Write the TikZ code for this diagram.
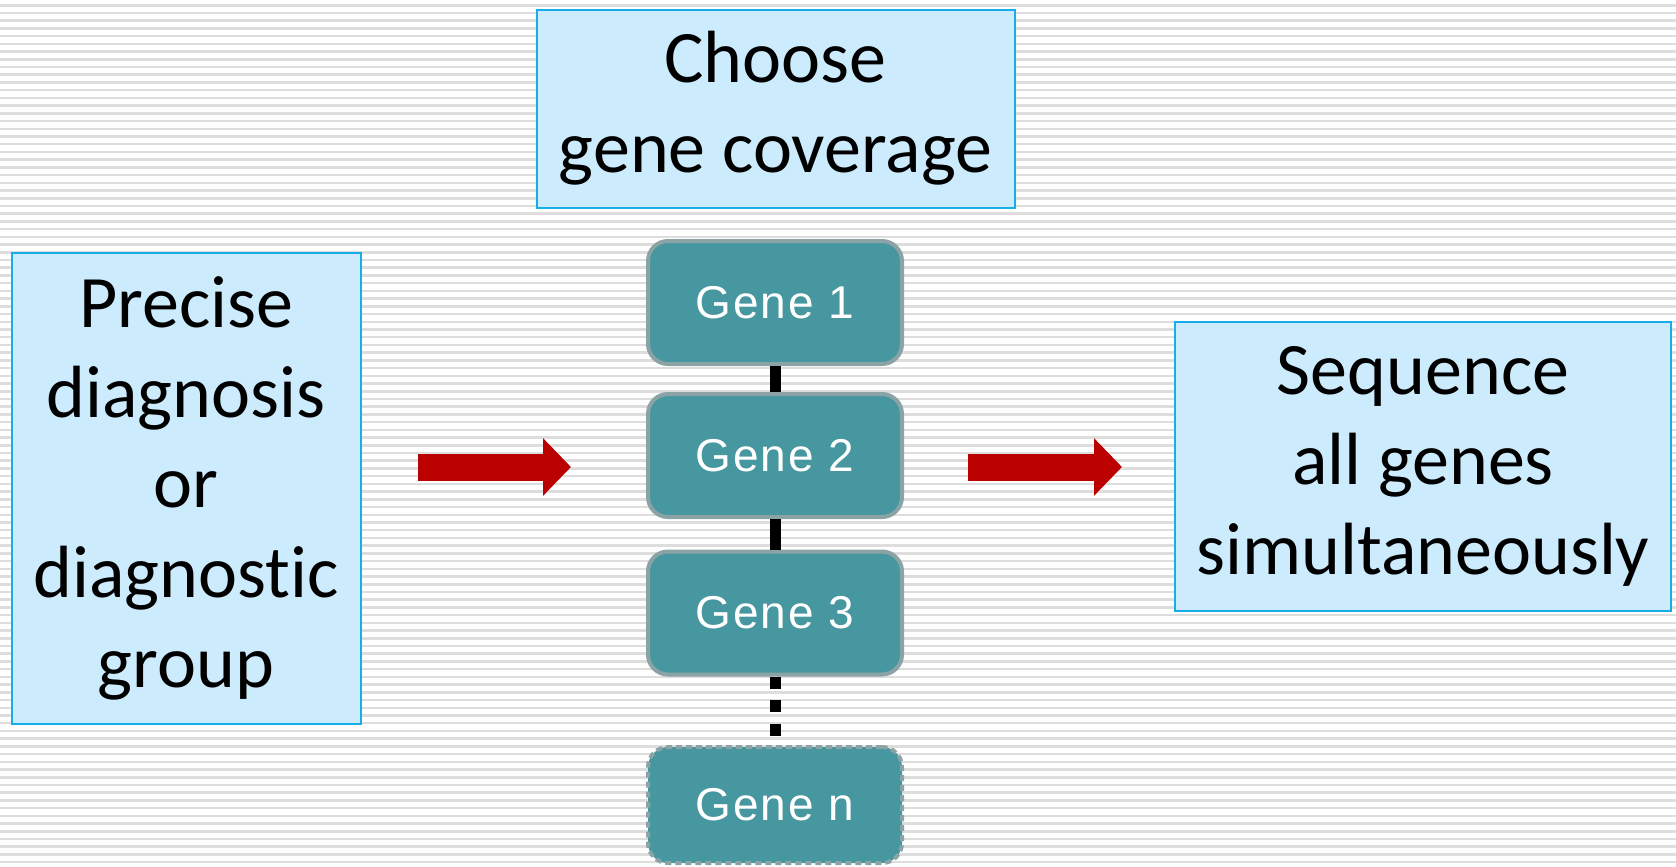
\documentclass[tikz,border=0pt]{standalone}
\usepackage{fontspec}
\setmainfont[Ligatures={NoCommon}]{Carlito}
\newfontfamily\genefont[LetterSpace=4]{Liberation Sans}
\usepackage{tikz}
\usetikzlibrary{arrows.meta}
\definecolor{stripegray}{HTML}{DDDDDD}
\definecolor{boxblue}{HTML}{CCEBFD}
\definecolor{edgeblue}{HTML}{16ADE8}
\definecolor{geneteal}{HTML}{46979F}
\definecolor{genegray}{HTML}{8CA3A6}
\definecolor{arrowred}{HTML}{BB0000}

\tikzset{
  stepbox/.style={draw=edgeblue, line width=1pt, fill=boxblue, align=center,
    font=\fontsize{37}{45}\selectfont, inner sep=0pt},
  gene/.style={draw=genegray, line width=2pt, fill=geneteal, rounded corners=10pt,
    minimum width=127pt, minimum height=61.5pt, text=white, inner sep=0pt,
    font=\genefont\fontsize{23}{26}\selectfont},
  link/.style={line width=5.5pt},
  bigarrow/.style={arrowred, line width=13.5pt, -{Triangle[length=14pt, width=28pt]}},
}

\begin{document}
\begin{tikzpicture}[x=0.5pt, y=-0.5pt]
  \useasboundingbox (0,0) rectangle (1676,867);

  % striped background
  \begin{scope}
    \clip (0,0) rectangle (1676,867);
    \fill[white] (0,0) rectangle (1676,867);
    \foreach \i in {0,...,112}
      \fill[stripegray] (0,{4+7.72*\i}) rectangle (1676,{6.5+7.72*\i});
  \end{scope}

  % the three text boxes
  \node[stepbox, minimum width=239pt, minimum height=99pt] (choose) at (775.5,108.5)
    {Choose\\gene coverage};
  \node[stepbox, minimum width=174.5pt, minimum height=235.5pt] (diag) at (186,488.5)
    {Precise\\diagnosis\\or\\diagnostic\\group};
  \node[stepbox, minimum width=248pt, minimum height=144.5pt] (seq) at (1423,466.5)
    {Sequence\\all genes\\simultaneously};

  % column of genes
  \node[gene] (g1) at (775,302.5) {Gene 1};
  \node[gene] (g2) at (775,455.5) {Gene 2};
  \node[gene] (g3) at (775,613) {Gene 3};
  \node[gene, dash pattern=on 3pt off 2pt, minimum height=58pt] (gn) at (775,805) {Gene n};

  \draw[link] (g1) -- (g2);
  \draw[link] (g2) -- (g3);
  \draw[link, dash pattern=on 6pt off 5.8pt] (g3.south) -- (gn.north);

  % red arrows
  \coordinate (arrowrow) at (0,467);
  \draw[bigarrow, shorten <=28pt, shorten >=37.5pt] (diag.east |- arrowrow) -- (g2.west |- arrowrow);
  \draw[bigarrow, shorten <=32pt, shorten >=26pt] (g2.east |- arrowrow) -- (seq.west |- arrowrow);
\end{tikzpicture}
\end{document}
